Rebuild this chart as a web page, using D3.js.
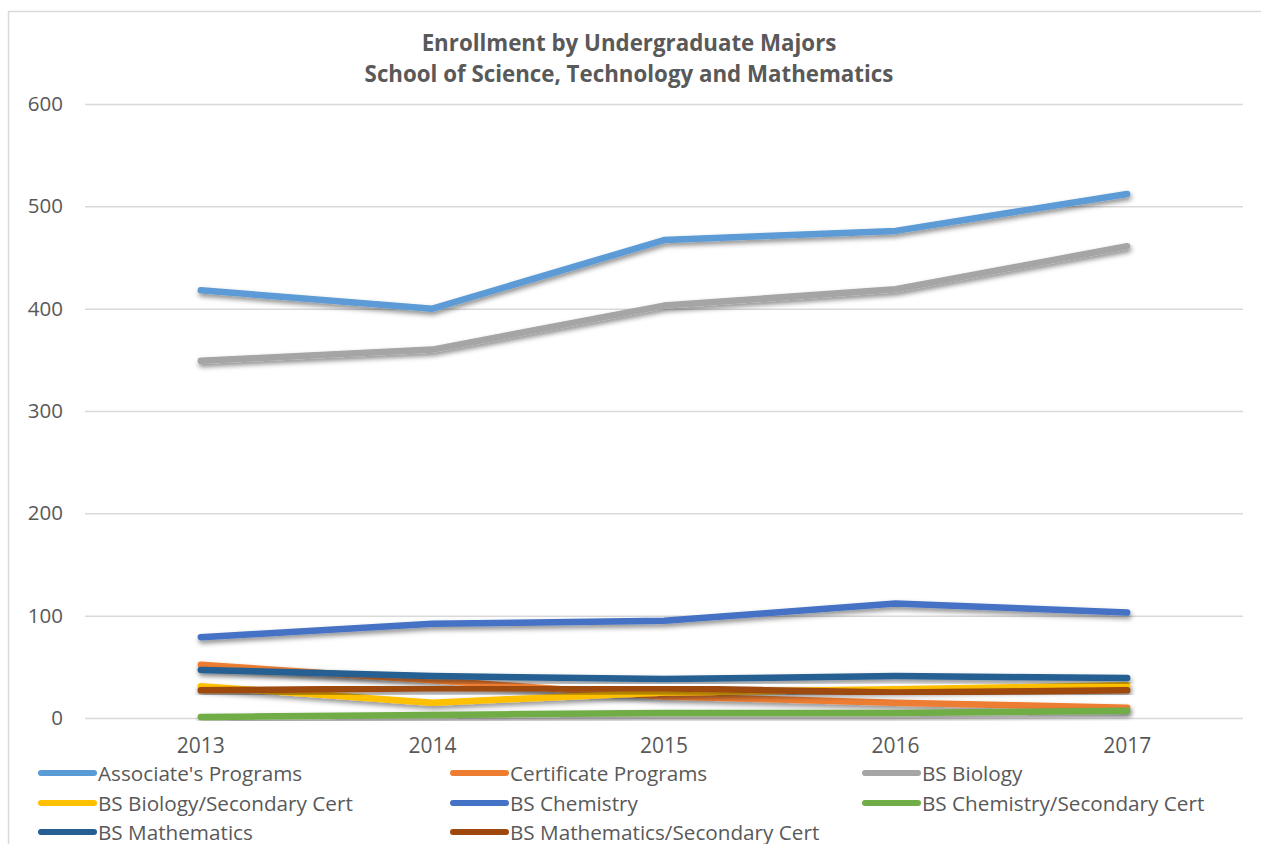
<!DOCTYPE html>
<html>
<head>
<meta charset="utf-8">
<script src="https://cdn.jsdelivr.net/npm/d3@7"></script>
<style>
    body { margin: 0; background: #fff; }
    text { font-family: "Open Sans", Lato, sans-serif; fill: #595959; }
</style>
</head>
<body>
<div id="chart-area"></div>
<script>
/*
*    enrollment chart
*/

const years = ["2013", "2014", "2015", "2016", "2017"];
const seriesNames = [
    "Associate's Programs", "Certificate Programs", "BS Biology",
    "BS Biology/Secondary Cert", "BS Chemistry", "BS Chemistry/Secondary Cert",
    "BS Mathematics", "BS Mathematics/Secondary Cert"
];
const associates = [418, 400, 467, 476, 512];
const certificate = [52, 37, 21, 15, 10];
const biology = [349, 360, 403, 419, 461];
const biologySec = [31, 15, 25, 28, 32];
const chemistry = [79, 92, 95, 112, 103];
const chemistrySec = [1, 3, 5, 5, 7];
const mathematics = [47, 41, 38, 41, 39];
const mathematicsSec = [27, 29, 29, 25, 27];
const yTicks = [0, 100, 200, 300, 400, 500, 600];
const colors = ["#5B9BD5", "#ED7D31", "#A5A5A5", "#FFC000", "#4472C4", "#70AD47", "#255E91", "#9E480E"];

const allValues = [associates, certificate, biology, biologySec, chemistry, chemistrySec, mathematics, mathematicsSec];

const W = 1261, H = 844;
const margin = { top: 104, right: 18, bottom: 126, left: 85 };
const width = W - margin.left - margin.right;
const height = H - margin.top - margin.bottom;

const svg = d3.select("#chart-area").append("svg")
    .attr("width", W)
    .attr("height", H);

const defs = svg.append("defs");
const shadow = defs.append("filter")
    .attr("id", "shadow")
    .attr("x", "-10%").attr("y", "-50%")
    .attr("width", "120%").attr("height", "200%");
shadow.append("feDropShadow")
    .attr("dx", 1)
    .attr("dy", 3)
    .attr("stdDeviation", 2.5)
    .attr("flood-color", "#000")
    .attr("flood-opacity", 0.45);

// chart border
svg.append("rect")
    .attr("x", 8.5).attr("y", 11.5)
    .attr("width", W + 20).attr("height", H + 20)
    .attr("fill", "none")
    .attr("stroke", "#d9d9d9")
    .attr("stroke-width", 1.5);

svg.append("text")
    .attr("x", 629).attr("y", 51)
    .attr("text-anchor", "middle")
    .attr("font-size", "22.3px")
    .attr("font-weight", "bold")
    .text("Enrollment by Undergraduate Majors");
svg.append("text")
    .attr("x", 629).attr("y", 82)
    .attr("text-anchor", "middle")
    .attr("font-size", "22.3px")
    .attr("font-weight", "bold")
    .text("School of Science, Technology and Mathematics");

const g = svg.append("g")
    .attr("transform", `translate(${margin.left}, ${margin.top})`);

const x = d3.scaleBand()
    .domain(years)
    .range([0, width]);

const y = d3.scaleLinear()
    .domain([0, 600])
    .range([height, 0]);

const yAxisCall = d3.axisLeft(y)
    .tickValues(yTicks)
    .tickSize(-width)
    .tickPadding(22);
const yAxis = g.append("g")
    .attr("class", "y axis")
    .call(yAxisCall);
yAxis.select(".domain").remove();
yAxis.selectAll("line").attr("stroke", "#d9d9d9").attr("stroke-width", 1.5);
yAxis.selectAll("text").attr("font-size", "20.5px").attr("fill", "#595959");

const xAxisCall = d3.axisBottom(x).tickSize(0).tickPadding(20);
const xAxis = g.append("g")
    .attr("class", "x axis")
    .attr("transform", `translate(0, ${height})`)
    .call(xAxisCall);
xAxis.select(".domain").remove();
xAxis.selectAll("text").attr("font-size", "21px").attr("fill", "#595959");

const line = d3.line()
    .x((d, i) => x(years[i]) + x.bandwidth() / 2)
    .y(d => y(d));

g.selectAll(".series")
    .data(allValues)
    .enter()
    .append("path")
    .attr("class", "series")
    .attr("d", d => line(d))
    .attr("fill", "none")
    .attr("stroke", (d, i) => colors[i])
    .attr("stroke-width", 6.5)
    .attr("stroke-linecap", "round")
    .attr("stroke-linejoin", "round")
    .attr("filter", "url(#shadow)");

// legend, three columns
const legendCols = [38, 450, 862];
const legendRows = [773, 803, 832];
const legend = svg.selectAll(".legend")
    .data(seriesNames)
    .enter()
    .append("g")
    .attr("class", "legend")
    .attr("transform", (d, i) => `translate(${legendCols[i % 3]}, ${legendRows[Math.floor(i / 3)]})`);
legend.append("line")
    .attr("x1", 3).attr("x2", 56)
    .attr("y1", 0).attr("y2", 0)
    .attr("stroke", (d, i) => colors[i])
    .attr("stroke-width", 6)
    .attr("stroke-linecap", "round");
legend.append("text")
    .attr("x", 60)
    .attr("y", 7.5)
    .attr("font-size", "20.7px")
    .text(d => d);
</script>
</body>
</html>
